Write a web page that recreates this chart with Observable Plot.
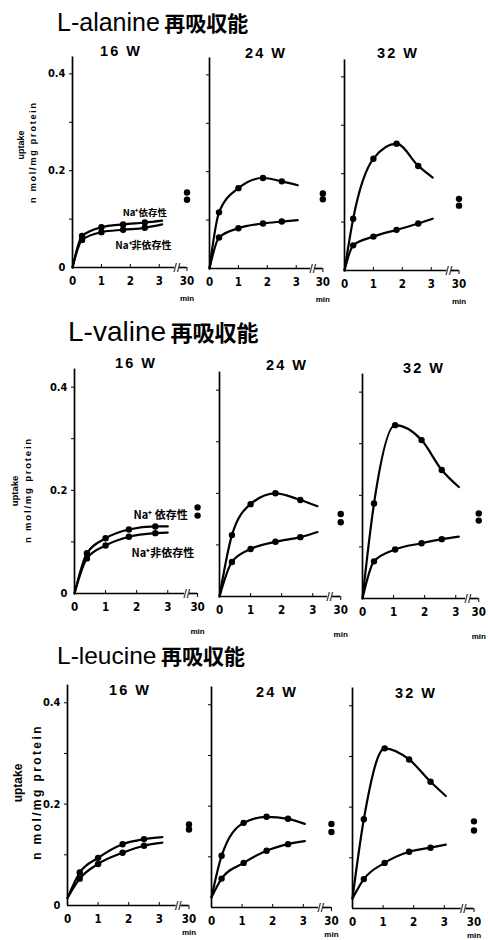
<!DOCTYPE html>
<html>
<head>
<meta charset="utf-8">
<script src="https://cdn.jsdelivr.net/npm/d3@7"></script>
<script src="https://cdn.jsdelivr.net/npm/@observablehq/plot@0.6"></script>
<style>
  html, body { margin: 0; padding: 0; background: #fff; }
  #root { position: relative; width: 488px; height: 940px; overflow: hidden; color: #000;
          font-family: "Liberation Sans", Arial, sans-serif; }
  .abs { position: absolute; white-space: nowrap; line-height: 1; }
  .title .lat { font-family: "Liberation Sans", Arial, sans-serif; font-weight: normal; }
  .title .ja { font-family: "Noto Sans CJK JP", sans-serif; font-weight: bold; }
  .week { font-weight: bold; letter-spacing: 2px; transform: translate(-50%, -50%); }
  .ylab { font-weight: bold; transform: translate(-50%, -50%) rotate(-90deg); }
</style>
</head>
<body>
<div id="root"></div>
<script>
// ---------------- data ----------------
const aminoAcids = ["L-alanine", "L-valine", "L-leucine"];
const titleJa = "再吸収能";
const weeks = ["16 W", "24 W", "32 W"];
const xTicks = [0, 1, 2, 3, 30];
const yTickLabels = [0, 0.2, 0.4];
const yTickMarks = [0.1, 0.2, 0.3, 0.4];
const seriesNames = ["Na⁺依存性", "Na⁺非依存性"];
const yLabel1 = "uptake";
const yLabel2 = "n mol/mg protein";
const xUnit = "min";

// time (min) of each curve sample: first = curve start, last = curve end, middle = measured dots
const alanineTimes = [
  [0, 0.33, 1, 1.75, 2.5, 3.1],
  [0, 0.33, 1, 1.85, 2.5, 3.05],
  [0, 0.3, 1, 1.8, 2.55, 3.05]
];
const alanineDep = [
  [0, 0.065, 0.083, 0.089, 0.093, 0.097],
  [0, 0.116, 0.166, 0.187, 0.18, 0.172],
  [0, 0.107, 0.231, 0.262, 0.216, 0.192]
];
const alanineIndep = [
  [0, 0.057, 0.073, 0.078, 0.082, 0.089],
  [0, 0.064, 0.083, 0.093, 0.097, 0.1],
  [0, 0.052, 0.07, 0.084, 0.097, 0.107]
];
const alanine30 = [[0.155, 0.14], [0.155, 0.143], [0.148, 0.134]];

const valineTimes = [
  [0, 0.4, 1, 1.75, 2.6, 3.0],
  [0, 0.4, 1, 1.8, 2.6, 3.15],
  [0, 0.37, 1.05, 1.9, 2.55, 3.1]
];
const valineDep = [
  [0, 0.078, 0.107, 0.124, 0.13, 0.13],
  [0, 0.119, 0.179, 0.2, 0.187, 0.175],
  [0, 0.184, 0.336, 0.307, 0.249, 0.216]
];
const valineIndep = [
  [0, 0.068, 0.093, 0.11, 0.117, 0.118],
  [0, 0.067, 0.092, 0.106, 0.115, 0.125],
  [0, 0.072, 0.095, 0.107, 0.115, 0.12]
];
const valine30 = [[0.167, 0.151], [0.16, 0.144], [0.165, 0.151]];

const leucineTimes = [
  [0, 0.4, 1, 1.8, 2.5, 3.1],
  [0, 0.33, 1.05, 1.8, 2.5, 3.05],
  [0, 0.37, 1.05, 1.85, 2.55, 3.05]
];
const leucineDep = [
  [0.015, 0.065, 0.094, 0.121, 0.131, 0.135],
  [0.02, 0.102, 0.167, 0.179, 0.175, 0.165],
  [0.02, 0.176, 0.316, 0.294, 0.25, 0.222]
];
const leucineIndep = [
  [0.015, 0.053, 0.082, 0.104, 0.118, 0.124],
  [0.02, 0.057, 0.088, 0.112, 0.125, 0.131],
  [0.02, 0.058, 0.09, 0.112, 0.12, 0.126]
];
const leucine30 = [[0.16, 0.15], [0.165, 0.149], [0.172, 0.154]];

// ---------------- layout ----------------
const timesByRow = [alanineTimes, valineTimes, leucineTimes];
const depByRow = [alanineDep, valineDep, leucineDep];
const indepByRow = [alanineIndep, valineIndep, leucineIndep];
const at30ByRow = [alanine30, valine30, leucine30];

const axisXPos = [[72, 209, 344], [74, 219, 362], [67, 211, 352]];
const baseYPos = [[267, 268, 270], [593, 596, 598], [905, 907, 908]];
const px01 = [48.5, 51.5, 50.7];     // px per 0.1 uptake
const pxMin = [29, 31, 30.5];        // px per minute
const brkPos = [[3.96, 3.92, 3.96], [3.96, 3.9, 3.74], [3.97, 3.92, 3.97]]; // where "30" sits on the broken axis
const minDy = [31, 38, 27];
const weekPos = [[[121, 51], [266, 53], [398, 53]],
                 [[136, 363], [287, 365], [424, 368]],
                 [[130, 690], [277, 692], [416, 693]]];
const titleCfg = [
  {left: 57, top: 10, lat: 25, ja: 21},
  {left: 68, top: 318, lat: 28, ja: 22},
  {left: 57, top: 644, lat: 24.5, ja: 21}
];
const yLabCfg = [
  {a: [21, 145], b: [33, 152], fs: 9, ls: 1.8},
  {a: [15, 491], b: [28, 490], fs: 9.5, ls: 1.8},
  {a: [18, 783], b: [37, 792], fs: 12, ls: 2.4}
];

const numFont = '"Liberation Sans Narrow", "DejaVu Sans Condensed", "Liberation Sans", sans-serif';
const jaFont = '"Noto Sans CJK JP", sans-serif';

const root = document.getElementById("root");
function addDiv(cls, html, css) {
  const d = document.createElement("div");
  d.className = "abs " + cls;
  d.innerHTML = html;
  Object.assign(d.style, css);
  root.append(d);
  return d;
}

for (let r = 0; r < 3; r++) {
  const tc = titleCfg[r];
  addDiv("title",
    `<span class="lat" style="font-size:${tc.lat}px">${aminoAcids[r]}</span> <span class="ja" style="font-size:${tc.ja}px">${titleJa}</span>`,
    {left: tc.left + "px", top: tc.top + "px"});
  const yc = yLabCfg[r];
  addDiv("ylab", yLabel1, {left: yc.a[0] + "px", top: yc.a[1] + "px", fontSize: yc.fs + "px"});
  addDiv("ylab", yLabel2, {left: yc.b[0] + "px", top: yc.b[1] + "px", fontSize: yc.fs + "px", letterSpacing: yc.ls + "px"});

  for (let c = 0; c < 3; c++) {
    const wp = weekPos[r][c];
    addDiv("week", weeks[c], {left: wp[0] + "px", top: wp[1] + "px", fontSize: "14.5px"});

    const BRK = brkPos[r][c];
    const brk = t => (t >= 30 ? BRK : t);

    const times = timesByRow[r][c];
    const dep = depByRow[r][c], indep = indepByRow[r][c];
    const lines = [];
    times.forEach((t, i) => {
      lines.push({t, v: dep[i], s: seriesNames[0], i});
      lines.push({t, v: indep[i], s: seriesNames[1], i});
    });
    const dots = lines.filter(d => d.i > 0 && d.i < times.length - 1);
    const late = at30ByRow[r][c].map(v => ({t: 30, v}));

    const mL = 34, mR = 18, mT = 4, mB = 46;
    const yMax = 0.44, xMax = 4.15;
    const innerH = yMax * px01[r] * 10, innerW = xMax * pxMin[r];
    const width = Math.round(mL + mR + innerW), height = Math.round(mT + mB + innerH);

    const marks = [
      Plot.ruleX([0], {y1: () => 0, y2: () => 0.435, strokeWidth: 1.7}),
      Plot.ruleY([0], {x1: () => 0, x2: () => BRK - 0.42, strokeWidth: 1.7}),
      Plot.ruleY([0], {x1: () => BRK - 0.26, x2: () => BRK, strokeWidth: 1.7}),
      Plot.text(["//"], {x: () => BRK - 0.35, y: () => 0, text: d => d, fontSize: 10, fontWeight: "bold", fontFamily: numFont}),
      Plot.axisY(yTickMarks, {tickSize: 3, tickFormat: () => "", label: null}),
      Plot.axisX([1, 2, 3], {tickSize: -3, tickFormat: () => "", label: null}),
      Plot.axisX([BRK], {tickSize: 4, tickFormat: () => "", label: null}),
      Plot.axisX(xTicks.map(brk), {tickSize: 0, tickPadding: 9, label: null,
        tickFormat: d => (d > 3.5 ? "30" : String(d)), fontSize: 11.5, fontWeight: "bold", fontFamily: numFont}),
      Plot.text([xUnit], {x: () => BRK, y: () => 0, text: d => d, dy: minDy[r], fontSize: 8, fontWeight: "bold"}),
      Plot.line(lines, {x: "t", y: "v", z: "s", curve: "monotone-x", strokeWidth: 2.2}),
      Plot.dot(dots, {x: "t", y: "v", r: 3.2, fill: "black"}),
      Plot.dot(late, {x: d => brk(d.t), y: "v", r: 3.2, fill: "black"})
    ];
    if (c === 0) {
      marks.push(Plot.axisY(yTickLabels, {tickSize: 0, tickPadding: 7, label: null,
        tickFormat: d => (d === 0 ? "0" : d.toFixed(1)), fontSize: 11, fontWeight: "bold", fontFamily: numFont}));
    }
    if (c === 0 && r === 0) {
      marks.push(Plot.text([seriesNames[0]], {x: () => 2.5, y: () => 0.113, text: d => d, fontSize: 9.5, fontWeight: "bold", fontFamily: jaFont}));
      marks.push(Plot.text([seriesNames[1]], {x: () => 2.45, y: () => 0.045, text: d => d, fontSize: 10, fontWeight: "bold", fontFamily: jaFont}));
    }
    if (c === 0 && r === 1) {
      marks.push(Plot.text([seriesNames[0].replace("⁺", "⁺ ")], {x: () => 2.77, y: () => 0.151, text: d => d, fontSize: 11, fontWeight: "bold", fontFamily: jaFont}));
      marks.push(Plot.text([seriesNames[1]], {x: () => 2.84, y: () => 0.078, text: d => d, fontSize: 11, fontWeight: "bold", fontFamily: jaFont}));
    }

    const svg = Plot.plot({
      width, height,
      marginLeft: mL, marginRight: mR, marginTop: mT, marginBottom: mB,
      x: {domain: [0, xMax], label: null},
      y: {domain: [0, yMax], label: null},
      style: {background: "none", fontFamily: '"Liberation Sans", Arial, sans-serif', fontSize: "11px", overflow: "visible", maxWidth: "none", color: "black"},
      marks
    });
    svg.style.position = "absolute";
    svg.style.left = (axisXPos[r][c] - mL) + "px";
    svg.style.top = (baseYPos[r][c] - innerH - mT) + "px";
    root.append(svg);
  }
}
</script>
</body>
</html>
